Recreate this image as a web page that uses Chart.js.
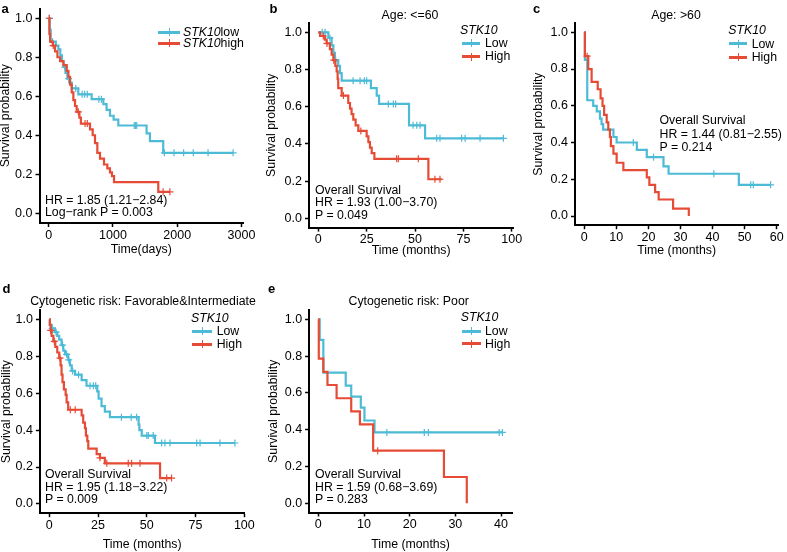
<!DOCTYPE html>
<html lang="en">
<head>
<meta charset="UTF-8">
<title>STK10 overall survival</title>
<script src="https://cdn.jsdelivr.net/npm/chart.js"></script>
<style>
    body {
        margin: 0;
        width: 787px;
        height: 552px;
        overflow: hidden;
        position: relative;
        background: #fff;
        font-family: "Liberation Sans", Arial, sans-serif;
        color: #000;
    }
    canvas { position: absolute; }
    .t {
        position: absolute;
        font-size: 12.3px;
        line-height: 14px;
        white-space: nowrap;
    }
    .tag { font-weight: bold; font-size: 13px; line-height: 15px; }
    .mid { transform: translateX(-50%); }
    .sw { position: absolute; height: 3px; }
    .sw::after {
        content: '';
        position: absolute;
        left: 50%;
        top: -2.5px;
        width: 1px;
        height: 8px;
        background: inherit;
    }
</style>
</head>
<body>
<canvas id="ca"></canvas>
<canvas id="cb"></canvas>
<canvas id="cc"></canvas>
<canvas id="cd"></canvas>
<canvas id="ce"></canvas>

<script>
    const blue = '#4DBBD5';
    const red = '#E64B35';

    const yTicks = [0, 0.2, 0.4, 0.6, 0.8, 1.0];

    // a: all patients, time in days
    const aTicks = [0, 1000, 2000, 3000];
    const aLowTime = [0, 15, 30, 110, 150, 180, 205, 230, 260, 290, 320, 358, 460, 668, 850, 900, 953, 1010, 1083, 1523, 1575, 1782, 2870];
    const aLowSurv = [1.0, 0.94, 0.88, 0.86, 0.84, 0.81, 0.78, 0.75, 0.72, 0.69, 0.67, 0.64, 0.61, 0.585, 0.56, 0.53, 0.50, 0.48, 0.45, 0.41, 0.37, 0.31, 0.31];
    const aLowCensor = [10, 60, 250, 310, 420, 520, 560, 600, 780, 820, 1330, 1350, 1370, 1800, 1950, 2100, 2250, 2480, 2870];
    const aHighTime = [0, 10, 21, 62, 98, 135, 176, 228, 280, 306, 332, 358, 383, 409, 435, 477, 500, 642, 684, 720, 756, 798, 860, 912, 953, 984, 1016, 1705, 1886];
    const aHighSurv = [1.0, 0.92, 0.88, 0.86, 0.83, 0.80, 0.78, 0.76, 0.73, 0.70, 0.66, 0.62, 0.58, 0.55, 0.52, 0.49, 0.46, 0.43, 0.40, 0.36, 0.31, 0.28, 0.25, 0.23, 0.21, 0.19, 0.16, 0.11, 0.11];
    const aHighCensor = [8, 70, 460, 565, 600, 1780, 1886];

    // b: age <= 60, months
    const bTicks = [0, 25, 50, 75, 100];
    const bLowTime = [0, 5.2, 6.9, 7.8, 8.6, 10.3, 11.2, 12.1, 27.2, 30.2, 31.4, 46.9, 55.2, 96];
    const bLowSurv = [1.0, 0.97, 0.93, 0.89, 0.85, 0.82, 0.78, 0.74, 0.70, 0.66, 0.615, 0.50, 0.43, 0.43];
    const bLowCensor = [2, 3.5, 6, 9, 18, 21.6, 23.8, 25, 36.2, 38.8, 40, 49, 50.9, 52.6, 61.2, 62.9, 74.1, 75.9, 83.6, 95.7];
    const bHighTime = [0, 0.9, 3.4, 4.3, 6.0, 6.9, 7.8, 8.8, 9.5, 10.0, 10.3, 12.1, 15.5, 16.4, 17.2, 18.1, 19.3, 20.7, 25.0, 25.9, 26.7, 27.6, 29.0, 56.9, 63.8];
    const bHighSurv = [1.0, 0.98, 0.96, 0.94, 0.91, 0.88, 0.85, 0.82, 0.79, 0.75, 0.70, 0.66, 0.62, 0.59, 0.56, 0.53, 0.50, 0.47, 0.44, 0.41, 0.38, 0.35, 0.32, 0.21, 0.21];
    const bHighCensor = [2.6, 4.5, 8, 13, 22, 40.5, 41.4, 51.7, 60.3, 62.9];

    // c: age > 60, months
    const cTicks = [0, 10, 20, 30, 40, 50, 60];
    const cLowTime = [0, 0.2, 0.94, 2.8, 3.9, 4.9, 5.4, 5.9, 9.1, 10.1, 16.4, 19.5, 24.7, 26.3, 48.2, 58.1];
    const cLowSurv = [1.0, 0.85, 0.63, 0.60, 0.57, 0.53, 0.50, 0.47, 0.43, 0.40, 0.36, 0.32, 0.27, 0.23, 0.17, 0.17];
    const cLowCensor = [15.3, 21.6, 40.4, 51.9, 52.7, 58.1];
    const cHighTime = [0, 0.2, 1.25, 2.3, 4.2, 5.1, 5.7, 6.2, 7.0, 7.5, 8.0, 8.3, 9.1, 10.1, 12.2, 19.5, 20.3, 22.1, 23.2, 27.7, 32.6];
    const cHighSurv = [1.0, 0.87, 0.80, 0.73, 0.69, 0.64, 0.60, 0.55, 0.51, 0.47, 0.43, 0.38, 0.34, 0.29, 0.25, 0.21, 0.17, 0.13, 0.09, 0.04, 0.0];
    const cHighCensor = [0.9];

    // d: favorable & intermediate cytogenetic risk, months
    const dTicks = [0, 25, 50, 75, 100];
    const dLowTime = [0, 0.3, 1.2, 2.9, 4.1, 5.1, 6.3, 7.2, 8.1, 9.7, 10.6, 11.5, 13.2, 16.6, 19.1, 24.6, 25.3, 26.8, 28.5, 31.1, 45.8, 46.2, 47.4, 54.2, 95.2];
    const dLowSurv = [1.0, 0.97, 0.95, 0.93, 0.91, 0.89, 0.86, 0.83, 0.81, 0.78, 0.75, 0.72, 0.70, 0.67, 0.64, 0.61, 0.57, 0.53, 0.50, 0.47, 0.43, 0.40, 0.37, 0.33, 0.33];
    const dLowCensor = [1.5, 3.5, 6.8, 8.9, 10, 12, 15, 20.9, 22.6, 23.8, 37, 42, 44.8, 50, 50.8, 53.3, 57.6, 59.3, 61.9, 75.6, 77.3, 87.5, 95.2];
    const dHighTime = [0, 0.3, 0.7, 1.2, 2.1, 3.1, 4.1, 5.1, 5.8, 6.3, 6.8, 7.5, 8.4, 8.9, 9.7, 16.6, 17.4, 18.3, 18.8, 19.5, 20.0, 24.3, 26.0, 28.5, 56.8, 62.7];
    const dHighSurv = [1.0, 0.97, 0.94, 0.91, 0.88, 0.85, 0.82, 0.79, 0.75, 0.70, 0.66, 0.62, 0.59, 0.55, 0.51, 0.48, 0.44, 0.41, 0.37, 0.34, 0.30, 0.27, 0.25, 0.22, 0.14, 0.14];
    const dHighCensor = [0.7, 2.6, 5.5, 10.8, 13.3, 26, 29.5, 40.5, 42.2, 46.5, 60.2, 62.7];

    // e: poor cytogenetic risk, months
    const eTicks = [0, 10, 20, 30, 40];
    const eLowTime = [0, 0.3, 1.1, 6.0, 7.2, 9.3, 10.1, 12.3, 40.3];
    const eLowSurv = [1.0, 0.888, 0.71, 0.64, 0.58, 0.52, 0.45, 0.385, 0.385];
    const eLowCensor = [15.0, 23.2, 24.1, 39.6, 40.3];
    const eHighTime = [0, 0.1, 1.1, 2.0, 4.0, 7.2, 9.1, 12.0, 27.5, 32.5];
    const eHighSurv = [1.0, 0.786, 0.714, 0.643, 0.571, 0.50, 0.429, 0.286, 0.143, 0.0];
    const eHighCensor = [13.0];

    const fam = '"Liberation Sans", Arial, sans-serif';

    // survival value of the step curve at time t (last event at or before t)
    function survAt(times, surv, t) {
        let s = surv[0];
        for (let i = 0; i < times.length; i++) {
            if (times[i] <= t) s = surv[i];
        }
        return s;
    }

    function makeChart(id, box, area, xr, xTicks, xTitle, groups) {
        const cv = document.getElementById(id);
        cv.width = box.w;
        cv.height = box.h;
        cv.style.left = box.x + 'px';
        cv.style.top = box.y + 'px';

        const datasets = [];
        groups.forEach((g, k) => {
            datasets.push({
                type: 'line',
                data: g.t.map((t, i) => ({x: t, y: g.s[i]})),
                borderColor: g.color,
                borderWidth: 2.2,
                stepped: true,
                pointRadius: 0,
                fill: false,
                order: 10 - 2 * k
            });
            datasets.push({
                type: 'scatter',
                data: g.c.map(t => ({x: t, y: survAt(g.t, g.s, t)})),
                borderColor: g.color,
                backgroundColor: g.color,
                pointStyle: 'cross',
                pointRadius: 3.5,
                borderWidth: 1.2,
                order: 9 - 2 * k
            });
        });

        const tickFont = {family: fam, size: 12.5};
        const titleFont = {family: fam, size: 12.3};
        new Chart(cv, {
            data: {datasets: datasets},
            options: {
                responsive: false,
                animation: false,
                events: [],
                layout: {
                    padding: {left: 0, bottom: 0, top: area.t - box.y, right: box.x + box.w - area.r}
                },
                plugins: {legend: {display: false}, tooltip: {enabled: false}},
                scales: {
                    x: {
                        type: 'linear',
                        min: xr[0],
                        max: xr[1],
                        afterBuildTicks: s => { s.ticks = xTicks.map(v => ({value: v})); },
                        ticks: {autoSkip: false, maxRotation: 0, font: tickFont, color: '#000', padding: 0.7,
                                callback: v => String(v)},
                        grid: {drawOnChartArea: false, tickLength: 4, tickWidth: 1.5, tickColor: '#000'},
                        border: {color: '#000', width: 2},
                        title: {display: true, text: xTitle, font: titleFont, color: '#000', padding: 0},
                        afterFit: s => { s.height = box.y + box.h - area.b; }
                    },
                    y: {
                        type: 'linear',
                        min: -0.05,
                        max: 1.05,
                        afterBuildTicks: s => { s.ticks = yTicks.map(v => ({value: v})); },
                        ticks: {font: tickFont, color: '#000', padding: 3, callback: v => v.toFixed(1)},
                        grid: {drawOnChartArea: false, tickLength: 4, tickWidth: 1.5, tickColor: '#000'},
                        border: {color: '#000', width: 2},
                        title: {display: true, text: 'Survival probability', font: titleFont, color: '#000', padding: 0},
                        afterFit: s => { s.width = area.l - box.x; }
                    }
                }
            }
        });
    }

    makeChart('ca', {x: -2, y: -6, w: 264, h: 263}, {l: 39.5, t: 8.5, r: 243, b: 223},
        [-144, 3024], aTicks, 'Time(days)',
        [{t: aLowTime, s: aLowSurv, c: aLowCensor, color: blue},
         {t: aHighTime, s: aHighSurv, c: aHighCensor, color: red}]);

    makeChart('cb', {x: 264, y: 10, w: 264, h: 248}, {l: 309, t: 23, r: 513.3, b: 227.6},
        [-4.8, 100.8], bTicks, 'Time (months)',
        [{t: bLowTime, s: bLowSurv, c: bLowCensor, color: blue},
         {t: bHighTime, s: bHighSurv, c: bHighCensor, color: red}]);

    makeChart('cc', {x: 531, y: 10, w: 256, h: 248}, {l: 575, t: 23.1, r: 778.3, b: 225.2},
        [-2.88, 60.5], cTicks, 'Time (months)',
        [{t: cLowTime, s: cLowSurv, c: cLowCensor, color: blue},
         {t: cHighTime, s: cHighSurv, c: cHighCensor, color: red}]);

    makeChart('cd', {x: -1, y: 296, w: 263, h: 256}, {l: 39.9, t: 310, r: 244.5, b: 513.2},
        [-4.8, 100.1], dTicks, 'Time (months)',
        [{t: dLowTime, s: dLowSurv, c: dLowCensor, color: blue},
         {t: dHighTime, s: dHighSurv, c: dHighCensor, color: red}]);

    makeChart('ce', {x: 266, y: 296, w: 262, h: 256}, {l: 309.1, t: 310.1, r: 512, b: 512.5},
        [-2.02, 42.4], eTicks, 'Time (months)',
        [{t: eLowTime, s: eLowSurv, c: eLowCensor, color: blue},
         {t: eHighTime, s: eHighSurv, c: eHighCensor, color: red}]);

    // text overlays: [html, x, baseline, class]
    const texts = [
        ['a', 1.5, 12.7, 'tag'],
        ['<i>STK10</i>low', 183, 36, ''],
        ['<i>STK10</i>high', 183, 47.7, ''],
        ['HR = 1.85 (1.21\u22122.84)', 45, 204.3, ''],
        ['Log\u2212rank P = 0.003', 45, 216.5, ''],

        ['b', 269.5, 12.7, 'tag'],
        ['Age: &lt;=60', 410, 19.3, 'mid'],
        ['<i>STK10</i>', 460, 34.3, ''],
        ['Low', 485, 47.7, ''],
        ['High', 485, 60.7, ''],
        ['Overall Survival', 315, 194.3, ''],
        ['HR = 1.93 (1.00\u22123.70)', 315, 206.7, ''],
        ['P = 0.049', 315, 219, ''],

        ['c', 533, 12.7, 'tag'],
        ['Age: &gt;60', 676, 19.3, 'mid'],
        ['<i>STK10</i>', 728.3, 34.3, ''],
        ['Low', 751.7, 48, ''],
        ['High', 751.7, 61, ''],
        ['Overall Survival', 659.5, 124, ''],
        ['HR = 1.44 (0.81\u22122.55)', 659.5, 138.3, ''],
        ['P = 0.214', 659.5, 151.7, ''],

        ['d', 2.5, 292.7, 'tag'],
        ['Cytogenetic risk: Favorable&amp;Intermediate', 143, 305, 'mid'],
        ['<i>STK10</i>', 191, 322.7, ''],
        ['Low', 216.7, 335.7, ''],
        ['High', 216.7, 348.3, ''],
        ['Overall Survival', 45, 478.3, ''],
        ['HR = 1.95 (1.18\u22123.22)', 45, 491, ''],
        ['P = 0.009', 45, 503.3, ''],

        ['e', 268, 292.7, 'tag'],
        ['Cytogenetic risk: Poor', 408.7, 305, 'mid'],
        ['<i>STK10</i>', 460.7, 321.7, ''],
        ['Low', 485, 335.7, ''],
        ['High', 485, 348.3, ''],
        ['Overall Survival', 315, 478.3, ''],
        ['HR = 1.59 (0.68\u22123.69)', 315, 491, ''],
        ['P = 0.283', 315, 503.3, '']
    ];

    texts.forEach(([html, x, base, cls]) => {
        const d = document.createElement('div');
        d.className = 't ' + cls;
        d.innerHTML = html;
        d.style.left = x + 'px';
        d.style.top = (base - (cls === 'tag' ? 12 : 11.3)) + 'px';
        document.body.appendChild(d);
    });

    // legend swatches: [x, y, width, colour]
    const swatches = [
        [158.3, 32, 21.7, blue], [158.3, 43.3, 21.7, red],
        [461.7, 43.3, 18.3, blue], [461.7, 56.7, 18.3, red],
        [729, 43.7, 18.3, blue], [729, 57, 18.3, red],
        [191.7, 331, 20, blue], [191.7, 344, 20, red],
        [461.7, 331, 19.3, blue], [461.7, 343.7, 19.3, red]
    ];
    swatches.forEach(([x, y, w, col]) => {
        const d = document.createElement('div');
        d.className = 'sw';
        d.style.left = x + 'px';
        d.style.top = (y - 1.5) + 'px';
        d.style.width = w + 'px';
        d.style.background = col;
        document.body.appendChild(d);
    });
</script>
</body>
</html>
